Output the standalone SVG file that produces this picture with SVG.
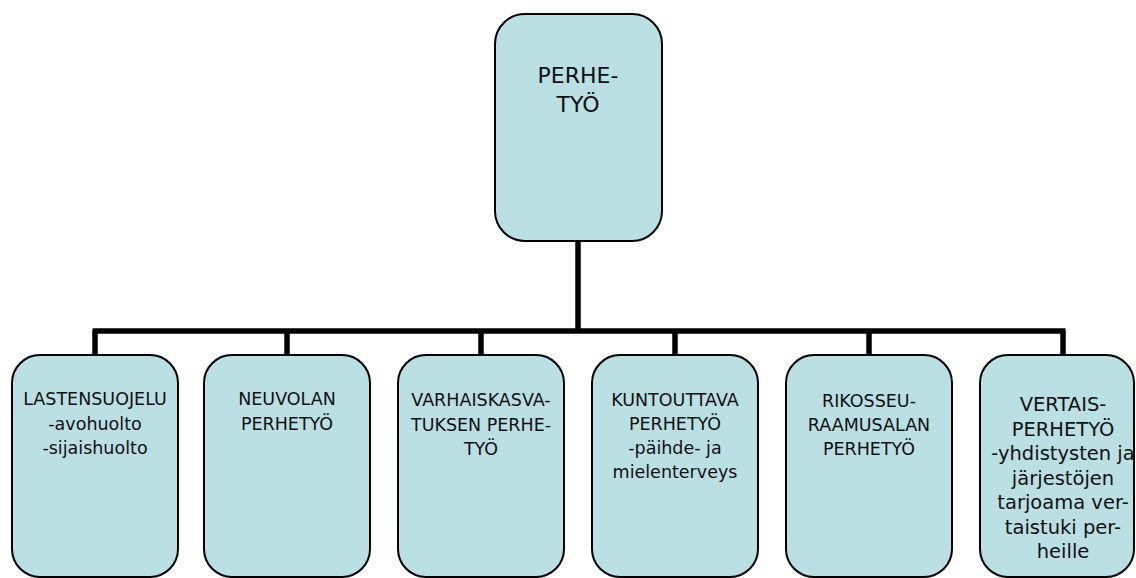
<svg xmlns="http://www.w3.org/2000/svg" width="1136" height="578" viewBox="0 0 1136 578">
<style>
.box{fill:#BAE0E3;stroke:#000;stroke-width:2}
.t{font-family:"DejaVu Sans","Verdana",sans-serif;font-size:17.5px;fill:#111;text-anchor:middle}
.big{font-size:22px}
.b6{font-size:19.5px}
.conn{stroke:#000;stroke-width:5.5;fill:none}
</style>
<rect width="1136" height="578" fill="#fff"/>
<g id="connectors">
<line class="conn" x1="578" y1="241" x2="578" y2="331"/>
<line class="conn" x1="92.5" y1="331" x2="1065.5" y2="331"/>
<line class="conn" x1="95" y1="331" x2="95" y2="355"/>
<line class="conn" x1="287" y1="331" x2="287" y2="355"/>
<line class="conn" x1="481" y1="331" x2="481" y2="355"/>
<line class="conn" x1="675" y1="331" x2="675" y2="355"/>
<line class="conn" x1="869" y1="331" x2="869" y2="355"/>
<line class="conn" x1="1063" y1="331" x2="1063" y2="355"/>
</g>
<g id="perhetyo">
<rect class="box" x="495" y="14" width="167" height="227" rx="30"/>
<text class="t big" x="578" y="83">PERHE-</text>
<text class="t big" x="578" y="112">TYÖ</text>
</g>
<g id="lastensuojelu">
<rect class="box" x="12" y="355" width="166" height="222" rx="28"/>
<text class="t" x="95" y="405">LASTENSUOJELU</text>
<text class="t" x="95" y="429.5">-avohuolto</text>
<text class="t" x="95" y="454">-sijaishuolto</text>
</g>
<g id="neuvola">
<rect class="box" x="204" y="355" width="166" height="222" rx="28"/>
<text class="t" x="287" y="405">NEUVOLAN</text>
<text class="t" x="287" y="429.5">PERHETYÖ</text>
</g>
<g id="varhaiskasvatus">
<rect class="box" x="398" y="355" width="166" height="222" rx="28"/>
<text class="t" x="481" y="406">VARHAISKASVA-</text>
<text class="t" x="481" y="430.5">TUKSEN PERHE-</text>
<text class="t" x="481" y="455">TYÖ</text>
</g>
<g id="kuntouttava">
<rect class="box" x="592" y="355" width="166" height="222" rx="28"/>
<text class="t" x="675" y="406">KUNTOUTTAVA</text>
<text class="t" x="675" y="430">PERHETYÖ</text>
<text class="t" x="675" y="454">-päihde- ja</text>
<text class="t" x="675" y="478">mielenterveys</text>
</g>
<g id="rikosseuraamus">
<rect class="box" x="786" y="355" width="166" height="222" rx="28"/>
<text class="t" x="869" y="407">RIKOSSEU-</text>
<text class="t" x="869" y="431">RAAMUSALAN</text>
<text class="t" x="869" y="455">PERHETYÖ</text>
</g>
<g id="vertais">
<rect class="box" x="980" y="355" width="154" height="222" rx="28"/>
<text class="t b6" x="1063" y="411">VERTAIS-</text>
<text class="t b6" x="1063" y="435.5">PERHETYÖ</text>
<text class="t b6" x="1063" y="460">-yhdistysten ja</text>
<text class="t b6" x="1063" y="484.5">järjestöjen</text>
<text class="t b6" x="1063" y="509">tarjoama ver-</text>
<text class="t b6" x="1063" y="533.5">taistuki per-</text>
<text class="t b6" x="1063" y="558">heille</text>
</g>
</svg>
